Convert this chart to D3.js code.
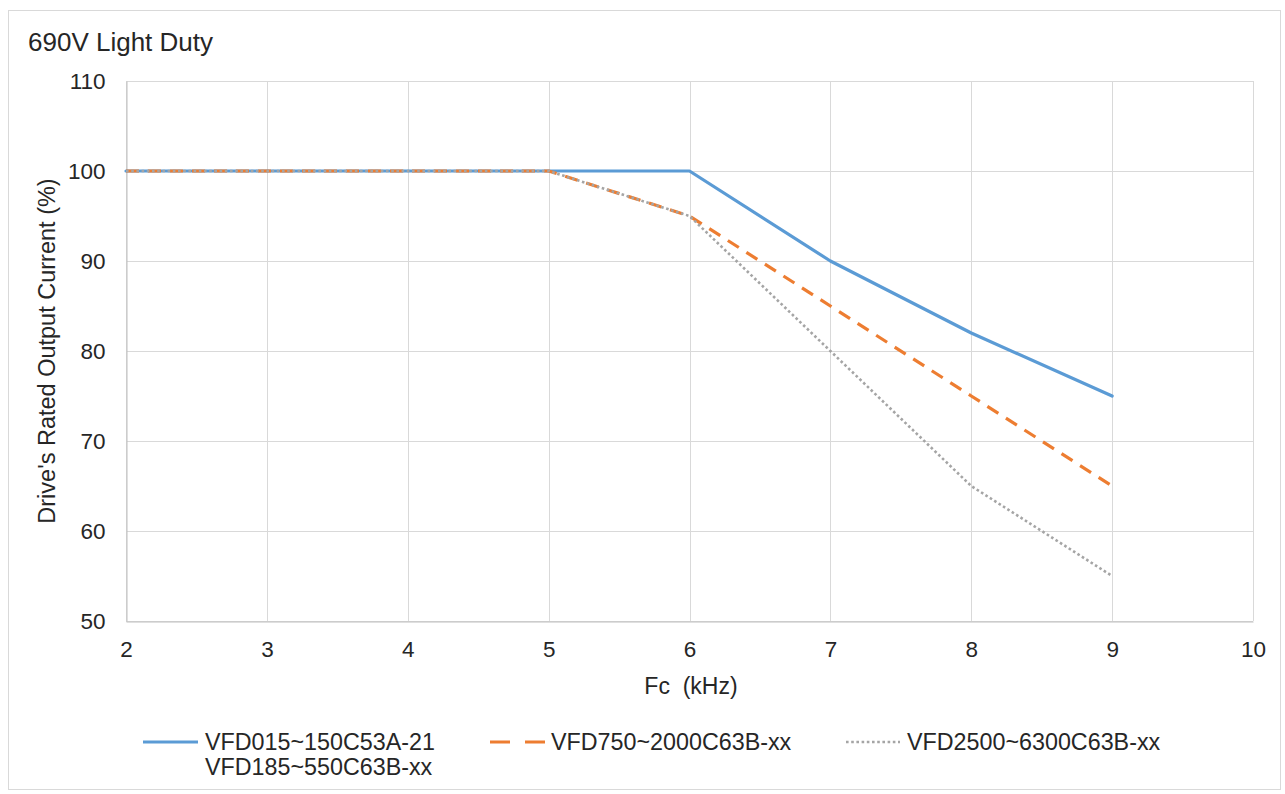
<!DOCTYPE html>
<html>
<head>
<meta charset="utf-8">
<script src="https://cdn.jsdelivr.net/npm/d3@7"></script>
<style>
  html, body { margin: 0; padding: 0; background: #ffffff; }
  svg { display: block; font-family: "Liberation Sans", Arial, sans-serif; }
</style>
</head>
<body>
<svg id="chart" width="1285" height="794"></svg>
<script>
const title = "690V Light Duty";
const xLabel = "Fc  (kHz)";
const yLabel = "Drive's Rated Output Current (%)";
const freq = [2, 3, 4, 5, 6, 7, 8, 9];
const seriesA = [100, 100, 100, 100, 100, 90, 82, 75];
const seriesB = [100, 100, 100, 100, 95, 85, 75, 65];
const seriesC = [100, 100, 100, 100, 95, 80, 65, 55];
const seriesNames = [["VFD015~150C53A-21", "VFD185~550C63B-xx"], ["VFD750~2000C63B-xx"], ["VFD2500~6300C63B-xx"]];
const xTicks = [2, 3, 4, 5, 6, 7, 8, 9, 10];
const yTicks = [50, 60, 70, 80, 90, 100, 110];

const svg = d3.select("#chart");
const m = { left: 126, right: 1253, top: 81, bottom: 621 };

// outer border
svg.append("rect").attr("x", 8.5).attr("y", 10.5).attr("width", 1272).attr("height", 779)
  .attr("fill", "#fff").attr("stroke", "#d9d9d9").attr("stroke-width", 1);

const x = d3.scaleLinear().domain([2, 10]).range([m.left, m.right]);
const y = d3.scaleLinear().domain([50, 110]).range([m.bottom, m.top]);

// gridlines
const grid = svg.append("g");
grid.selectAll(".gx").data(xTicks).join("line")
  .attr("x1", d => Math.round(x(d)) + 0.5).attr("x2", d => Math.round(x(d)) + 0.5)
  .attr("y1", m.top).attr("y2", m.bottom)
  .attr("stroke", "#d9d9d9").attr("stroke-width", 1);
grid.selectAll(".gy").data(yTicks).join("line")
  .attr("x1", m.left).attr("x2", m.right)
  .attr("y1", d => Math.round(y(d)) + 0.5).attr("y2", d => Math.round(y(d)) + 0.5)
  .attr("stroke", "#d9d9d9").attr("stroke-width", 1);

// axes
const xAxis = svg.append("g").attr("transform", `translate(0,${m.bottom + 0.5})`)
  .call(d3.axisBottom(x).tickValues(xTicks).tickSize(0).tickPadding(20).tickFormat(d3.format("d")));
xAxis.select(".domain").attr("stroke", "#bfbfbf");
xAxis.selectAll("text").attr("font-size", 22.5).attr("fill", "#262626")
  .attr("font-family", "Liberation Sans, Arial, sans-serif");

const yAxis = svg.append("g").attr("transform", `translate(${m.left + 0.5},0)`)
  .call(d3.axisLeft(y).tickValues(yTicks).tickSize(0).tickPadding(21).tickFormat(d3.format("d")));
yAxis.select(".domain").attr("stroke", "#bfbfbf");
yAxis.selectAll("text").attr("font-size", 22.5).attr("fill", "#262626")
  .attr("font-family", "Liberation Sans, Arial, sans-serif");

// lines
const rows = freq.map((f, i) => ({ f, a: seriesA[i], b: seriesB[i], c: seriesC[i] }));
const styles = [
  { key: "a", color: "#5b9bd5", width: 3.2, dash: null, legDash: null, cap: "round" },
  { key: "b", color: "#ed7d31", width: 3.2, dash: "13,9", legDash: "20,15", cap: "butt" },
  { key: "c", color: "#a5a5a5", width: 2.6, dash: "2.6,2.6", legDash: "2.6,2.6", cap: "butt" }
];
styles.forEach(s => {
  const line = d3.line().x(d => x(d.f)).y(d => y(d[s.key]));
  svg.append("path").datum(rows).attr("d", line)
    .attr("fill", "none").attr("stroke", s.color).attr("stroke-width", s.width)
    .attr("stroke-dasharray", s.dash).attr("stroke-linecap", s.cap).attr("stroke-linejoin", "round");
});

// titles
svg.append("text").attr("x", 28).attr("y", 51).text(title)
  .attr("font-size", 26).attr("fill", "#262626");
svg.append("text").attr("x", 691).attr("y", 694).attr("text-anchor", "middle").text(xLabel)
  .attr("font-size", 23).attr("fill", "#262626").attr("xml:space", "preserve").style("white-space", "pre");
svg.append("text").attr("transform", "translate(55,351) rotate(-90)").attr("text-anchor", "middle")
  .text(yLabel).attr("font-size", 23.5).attr("fill", "#262626");

// legend
const legendPos = [
  { lx1: 143, lx2: 198, tx: 205 },
  { lx1: 490, lx2: 545, tx: 551 },
  { lx1: 846, lx2: 900, tx: 907 }
];
const legY = 742;
styles.forEach((s, i) => {
  const p = legendPos[i];
  svg.append("line").attr("x1", p.lx1).attr("x2", p.lx2).attr("y1", legY).attr("y2", legY)
    .attr("stroke", s.color).attr("stroke-width", s.width).attr("stroke-dasharray", s.legDash)
    .attr("stroke-linecap", "butt");
  const t = svg.append("text").attr("x", p.tx).attr("y", legY + 8)
    .attr("font-size", 23.3).attr("fill", "#262626");
  seriesNames[i].forEach((nm, j) => {
    t.append("tspan").attr("x", p.tx).attr("dy", j === 0 ? 0 : 25).text(nm);
  });
});
</script>
</body>
</html>
